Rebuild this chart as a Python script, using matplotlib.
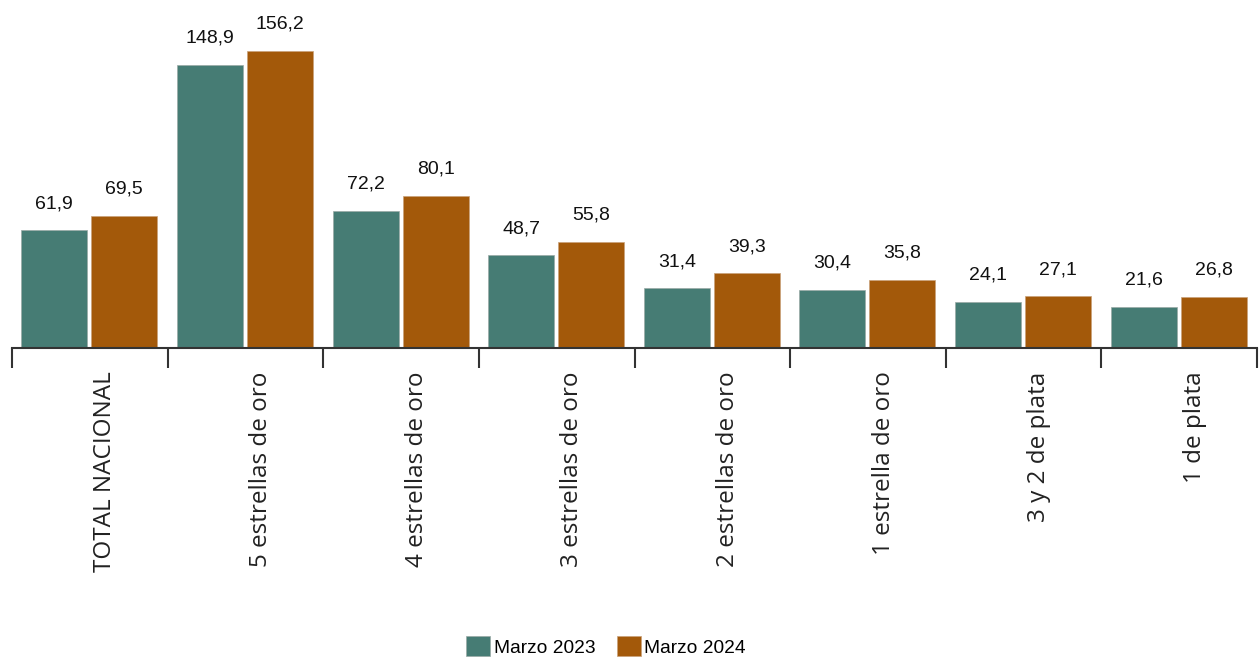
import matplotlib
matplotlib.use("Agg")
import matplotlib.pyplot as plt
from matplotlib.transforms import Bbox
import numpy as np

# data
categorias = ["TOTAL NACIONAL", "5 estrellas de oro", "4 estrellas de oro",
              "3 estrellas de oro", "2 estrellas de oro", "1 estrella de oro",
              "3 y 2 de plata", "1 de plata"]
marzo_2023 = [61.9, 148.9, 72.2, 48.7, 31.4, 30.4, 24.1, 21.6]
marzo_2024 = [69.5, 156.2, 80.1, 55.8, 39.3, 35.8, 27.1, 26.8]
series = ["Marzo 2023", "Marzo 2024"]

c_teal = "#467c74"
c_orange = "#a3590a"
axis_color = "#333333"

fig = plt.figure(figsize=(12.59, 6.58), dpi=100)
ax = fig.add_axes([12 / 1259, 310 / 658, 1245 / 1259, 348 / 658])

x = np.arange(len(categorias))
w = 0.424
b1 = ax.bar(x - 0.228, marzo_2023, w, color=c_teal, edgecolor="#9aa9a6",
            linewidth=0.5, label=series[0])
b2 = ax.bar(x + 0.222, marzo_2024, w, color=c_orange, edgecolor="#c9a27a",
            linewidth=0.5, label=series[1])

# value labels, spanish decimal comma
for bars, vals in ((b1, marzo_2023), (b2, marzo_2024)):
    for r, v in zip(bars, vals):
        ax.annotate(f"{v:.1f}".replace(".", ","),
                    (r.get_x() + r.get_width() / 2, r.get_height()),
                    xytext=(0, 16), textcoords="offset points",
                    ha="center", va="baseline", fontsize=14,
                    family="Liberation Sans", color="#111111")

ax.set_xlim(-0.5, len(categorias) - 0.5)
ax.set_ylim(0, 183.1)

for s in ["top", "left", "right"]:
    ax.spines[s].set_visible(False)
ax.spines["bottom"].set_color(axis_color)
ax.spines["bottom"].set_linewidth(1.5)
ax.set_yticks([])

# tick marks at category borders, labels slightly right of center
ax.set_xticks(np.arange(len(categorias) + 1) - 0.5, minor=True)
ax.tick_params(axis="x", which="minor", length=14.4, width=1.5, color=axis_color)
ax.set_xticks(x + 0.1)
ax.set_xticklabels(categorias, rotation=90, va="top", ha="center",
                   family="Open Sans", fontsize=17.5, color="#222222")
ax.tick_params(axis="x", which="major", length=0, pad=17)

# labels are cut at the bottom like in the source image
clip = Bbox([[0, 80], [1259, 658]])
for lab in ax.get_xticklabels():
    lab.set_clip_on(True)
    lab.set_clip_box(clip)

fig.legend(handles=[b1, b2], labels=series, loc="center",
           bbox_to_anchor=(606 / 1259, 1 - 646.5 / 658), ncol=2, frameon=False,
           prop={"family": "Liberation Sans", "size": 13.8},
           handlelength=1.25, handleheight=1.2, handletextpad=0.2,
           columnspacing=1.1, borderpad=0, borderaxespad=0)

fig.savefig("out.png", dpi=100)
